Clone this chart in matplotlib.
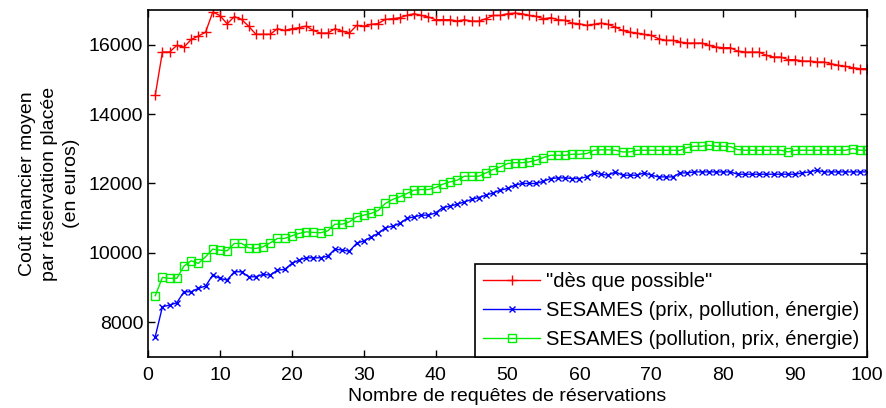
import numpy as np
import matplotlib.pyplot as plt

plt.rcParams['font.family'] = ['Liberation Sans', 'DejaVu Sans']

# ---- data ----
requetes = np.arange(1, 101)

des_que_possible = [
    14540, 15790, 15790, 15980, 15930, 16150, 16250, 16360, 16940, 16840,
    16600, 16810, 16730, 16530, 16300, 16300, 16300, 16460, 16410, 16460,
    16490, 16535, 16410, 16335, 16335, 16460, 16390, 16335, 16555, 16530,
    16584, 16610, 16728, 16748, 16777, 16843, 16892, 16843, 16800, 16720,
    16720, 16720, 16680, 16720, 16680, 16680, 16748, 16843, 16843, 16892,
    16910, 16892, 16843, 16814, 16748, 16777, 16720, 16700, 16622, 16604,
    16555, 16584, 16622, 16584, 16508, 16411, 16363, 16334, 16296, 16268,
    16172, 16124, 16124, 16076, 16047, 16047, 16047, 15980, 15931, 15912,
    15912, 15816, 15787, 15787, 15787, 15692, 15644, 15644, 15568, 15568,
    15528, 15528, 15500, 15500, 15453, 15404, 15375, 15338, 15309, 15309,
]

sesames_prix = [
    7585, 8448, 8497, 8563, 8880, 8880, 8978, 9044, 9360, 9266,
    9217, 9456, 9456, 9312, 9312, 9380, 9360, 9504, 9523, 9697,
    9792, 9858, 9858, 9858, 9907, 10109, 10080, 10050, 10273, 10348,
    10450, 10561, 10722, 10771, 10848, 10992, 11039, 11087, 11087, 11154,
    11308, 11346, 11404, 11470, 11539, 11596, 11663, 11729, 11807, 11856,
    11951, 12000, 12000, 12000, 12066, 12143, 12162, 12162, 12143, 12143,
    12190, 12305, 12267, 12239, 12334, 12239, 12239, 12239, 12305, 12239,
    12190, 12190, 12190, 12305, 12305, 12334, 12334, 12334, 12334, 12334,
    12334, 12267, 12267, 12267, 12267, 12267, 12267, 12267, 12267, 12267,
    12305, 12334, 12382, 12334, 12334, 12334, 12334, 12334, 12334, 12334,
]

sesames_pollution = [
    8765, 9294, 9266, 9266, 9620, 9773, 9697, 9887, 10109, 10080,
    10060, 10273, 10273, 10147, 10128, 10176, 10290, 10417, 10417, 10492,
    10561, 10607, 10590, 10580, 10635, 10828, 10828, 10895, 11039, 11087,
    11136, 11220, 11424, 11539, 11614, 11712, 11807, 11826, 11826, 11884,
    11980, 12046, 12095, 12210, 12210, 12210, 12305, 12402, 12477, 12575,
    12600, 12600, 12622, 12670, 12748, 12814, 12814, 12814, 12843, 12843,
    12862, 12958, 12970, 12970, 12958, 12910, 12910, 12958, 12958, 12958,
    12958, 12958, 12958, 12958, 13036, 13073, 13073, 13102, 13073, 13073,
    13060, 12978, 12958, 12958, 12958, 12958, 12958, 12958, 12910, 12958,
    12958, 12958, 12958, 12958, 12958, 12958, 12958, 13006, 12958, 12958,
]

labels = ['"dès que possible"',
          'SESAMES (prix, pollution, énergie)',
          'SESAMES (pollution, prix, énergie)']

FS = 14

fig = plt.figure(figsize=(8.87, 4.08), dpi=100)
ax = fig.add_axes([0.1669, 0.125, 0.8106, 0.8505])

ax.plot(requetes, des_que_possible, color='#ff0000', marker='+',
        markersize=7.5, markeredgewidth=1.0, linewidth=1.0, label=labels[0])
ax.plot(requetes, sesames_prix, color='#0000ff', marker='x',
        markersize=4, markeredgewidth=1.0, linewidth=1.0, label=labels[1])
ax.plot(requetes, sesames_pollution, color='#00ee00', marker='s',
        markersize=6, markerfacecolor='none', markeredgewidth=1.0,
        linewidth=1.0, label=labels[2])

ax.set_xlim(0, 100)
ax.set_ylim(7000, 17000)
ax.set_xticks(np.arange(0, 101, 10))
ax.set_yticks(np.arange(8000, 16001, 2000))
ax.tick_params(direction='in', top=True, right=True, length=5,
               width=1.0, labelsize=FS)
ax.tick_params(axis='x', pad=7)
for s in ax.spines.values():
    s.set_linewidth(1.2)

ax.set_xlabel("Nombre de requêtes de réservations", fontsize=FS, labelpad=3)
ax.set_ylabel("Coût financier moyen\npar réservation placée\n(en euros)",
              fontsize=FS, labelpad=6, linespacing=1.4)

leg = ax.legend(loc='lower right', borderaxespad=0, fancybox=False,
                fontsize=14.5, handlelength=2.8, borderpad=0.4,
                labelspacing=0.5, handletextpad=0.3)
leg.get_frame().set_edgecolor('black')
leg.get_frame().set_linewidth(1.2)
leg.get_frame().set_alpha(1)

fig.savefig("out.png", dpi=100)
